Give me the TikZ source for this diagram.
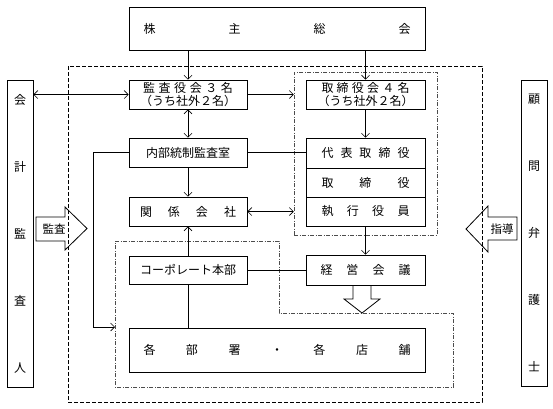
\documentclass[tikz,border=0pt]{standalone}
\usepackage{fontspec}
\setmainfont{Noto Sans CJK JP}
\usetikzlibrary{arrows.meta}
\tikzstyle{box} = [draw, line width=.8pt, minimum width=118pt, minimum height=29pt, inner sep=0pt, font=\fontsize{12}{12.5}\selectfont]
\tikzstyle{side} = [draw, line width=.8pt, minimum width=26pt, minimum height=306pt, inner sep=0pt, align=center, font=\fontsize{12}{14}\selectfont]
\tikzstyle{group} = [draw=black!70, line width=.5pt, dash pattern=on 4pt off 1.5pt on 1pt off 1.5pt]
\tikzstyle{link} = [line width=.6pt]
\tikzstyle{hollow} = [line width=.8pt]
\newcommand{\spread}[2]{\makebox[#1]{#2}}

\begin{document}
\begin{tikzpicture}[x=1pt, y=-1pt, >={Straight Barb[length=4pt, width=8pt]}]
			\useasboundingbox (0,0) rectangle (553,408);
			% outer frame and groups
			\draw[line width=.9pt, dash pattern=on 4pt off 2pt] (68,66) rectangle (482,402);
			\node[group, minimum width=143pt, minimum height=163pt] (grp1) at (365.5,153.5) {};
			\draw[group] (115,241) -- (279,241) -- (279,313) -- (453,313) -- (453,387) -- (115,387) -- cycle;
			\coordinate (turn) at (93,327);
			\coordinate (g2w) at (115,327);
			% boxes
			\node[box, minimum width=296pt, minimum height=43pt] (kabu) at (277,28.5) {\spread{267pt}{株\hfill 主\hfill 総\hfill 会}};
			\node[box, align=center] (kansa) at (188,94.5) {\spread{90pt}{監\hfill 査\hfill 役\hfill 会\hfill ３\hfill 名}\\（うち社外２名）};
			\node[box, align=center, minimum width=119pt] (torishimari) at (365.5,94.5) {\spread{88pt}{取\hfill 締\hfill 役\hfill 会\hfill ４\hfill 名}\\（うち社外２名）};
			\node[box] (naibu) at (188,152.5) {内部統制監査室};
			\node[box, minimum width=119pt, minimum height=30pt] (daihyo) at (365.5,153) {\spread{88pt}{代\hfill 表\hfill 取\hfill 締\hfill 役}};
			\node[box, minimum width=119pt] (toriyaku) at (365.5,182.5) {\spread{88pt}{取\hfill 締\hfill 役}};
			\node[box, minimum width=119pt] (shikko) at (365.5,211.5) {\spread{88pt}{執\hfill 行\hfill 役\hfill 員}};
			\node[box] (kankei) at (188,211.5) {\spread{96pt}{関\hfill 係\hfill 会\hfill 社}};
			\node[box, minimum height=28pt] (corp) at (188,270) {コーポレート本部};
			\node[box, minimum width=119pt, minimum height=30pt] (keiei) at (365.5,270) {\spread{90pt}{経\hfill 営\hfill 会\hfill 議}};
			\node[box, minimum width=296pt, minimum height=44pt] (kakubu) at (277,350) {\spread{267pt}{各\hfill 部\hfill 署\hfill ・\hfill 各\hfill 店\hfill 舗}};
			\node[side, minimum height=307pt] (kaikei) at (20,233.5) {会\\[53pt]計\\[53pt]監\\[53pt]査\\[53pt]人};
			\node[side] (komon) at (534,233) {顧\\[53pt]問\\[53pt]弁\\[53pt]護\\[53pt]士};
			% connectors
			\draw[link, ->] (kabu.south -| kansa.north) -- (kansa.north);
			\draw[link, ->] (kabu.south -| torishimari.north) -- (torishimari.north);
			\draw[link, <->] (kaikei.east |- kansa.west) -- (kansa.west);
			\draw[link, ->] (kansa.east) -- (kansa.east -| grp1.west);
			\draw[link, <->] (kansa.south) -- (naibu.north);
			\draw[link, ->] (torishimari.south) -- (daihyo.north);
			\draw[link] (naibu.east) -- (naibu.east -| daihyo.west);
			\draw[link, ->] (naibu.west) -| (turn) -- (g2w);
			\draw[link, ->] (naibu.south) -- (kankei.north);
			\draw[link, <->] (kankei.east) -- (kankei.east -| grp1.west);
			\draw[link, ->] (corp.north) -- (kankei.south);
			\draw[link] (corp.east) -- (keiei.west);
			\draw[link] (corp.south) -- (corp.south |- kakubu.north);
			\draw[link, ->] (shikko.south) -- (keiei.north);
			% hollow arrows
			\draw[hollow] (36,217) -- (65,217) -- (65,207) -- (87,228.5) -- (65,250) -- (65,241) -- (36,241) -- cycle;
			\node[font=\fontsize{11.5}{12}\selectfont] (kansaya) at (54,229) {監査};
			\draw[hollow] (517,217) -- (488,217) -- (488,206) -- (466,229) -- (488,252) -- (488,240) -- (517,240) -- cycle;
			\node[font=\fontsize{11.5}{12}\selectfont] (shidoya) at (502,229) {指導};
			\draw[hollow] (353,285) -- (353,299) -- (344,299) -- (362,313) -- (380,299) -- (371,299) -- (371,285);
		\end{tikzpicture}
\end{document}
